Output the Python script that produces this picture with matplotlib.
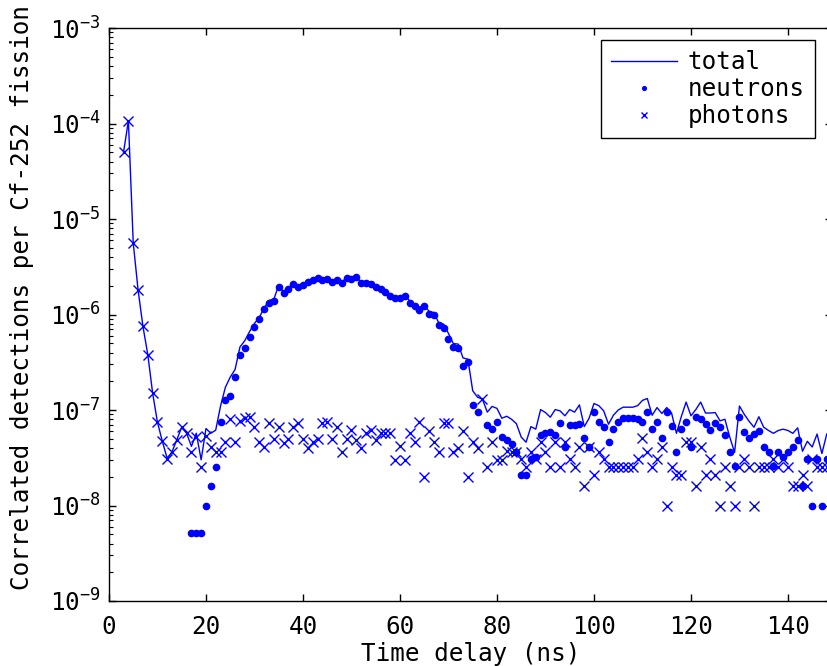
import matplotlib

matplotlib.use("Agg")
import matplotlib.pyplot as plt
import numpy as np
from matplotlib.ticker import FixedLocator, LogFormatterMathtext, LogLocator, MultipleLocator, NullFormatter


# time bins (ns), one value per bin
TIME_NS = list(range(3, 149))

PHOTONS = [
    5.0e-5, 1.07e-4, 5.6e-6, 1.8e-6, 7.5e-7, 3.8e-7, 1.5e-7, 7.4e-8, 4.7e-8, 3.1e-8,
    3.65e-8, 4.9e-8, 6.6e-8, 5.7e-8, 3.65e-8, 5.2e-8, 2.5e-8,
    # 20 - 80 ns
    5.4e-8, 4.1e-8, 3.6e-8, 3.6e-8, 4.6e-8, 8.1e-8, 4.6e-8, 7.6e-8, 8.2e-8, 8.5e-8,
    6.7e-8, 4.6e-8, 4.1e-8, 7.3e-8, 5.0e-8, 6.7e-8, 4.5e-8, 5.0e-8, 6.7e-8, 7.3e-8,
    5.0e-8, 4.0e-8, 4.6e-8, 5.0e-8, 7.3e-8, 7.5e-8, 5.0e-8, 6.7e-8, 3.6e-8, 5.0e-8,
    6.2e-8, 4.8e-8, 4.0e-8, 5.7e-8, 6.2e-8, 4.8e-8, 5.7e-8, 5.7e-8, 5.7e-8, 3.0e-8,
    4.2e-8, 3.0e-8, 5.7e-8, 4.6e-8, 7.4e-8, 2.0e-8, 6.1e-8, 4.6e-8, 3.6e-8, 7.3e-8,
    7.3e-8, 3.6e-8, 4.0e-8, 6.1e-8, 2.0e-8, 4.6e-8, 4.0e-8, 1.3e-7, 2.5e-8, 4.6e-8,
    3.0e-8,
    # 81 - 148 ns
    3.0e-8, 3.7e-8, 3.6e-8, 3.6e-8, 3.1e-8, 2.5e-8, 3.6e-8, 3.1e-8, 4.6e-8, 3.6e-8,
    2.5e-8, 4.6e-8, 2.5e-8, 4.6e-8, 3.1e-8, 2.5e-8, 4.1e-8, 1.6e-8, 4.1e-8, 2.1e-8,
    3.6e-8, 3.1e-8, 2.5e-8, 2.5e-8, 2.5e-8, 2.5e-8, 2.5e-8, 2.5e-8, 3.1e-8, 5.1e-8,
    3.6e-8, 2.5e-8, 3.1e-8, 4.1e-8, 1.0e-8, 2.5e-8, 2.1e-8, 2.1e-8, 4.6e-8, 4.6e-8,
    1.6e-8, 4.1e-8, 2.1e-8, 3.1e-8, 2.1e-8, 1.0e-8, 2.5e-8, 1.6e-8, 1.0e-8, 2.5e-8,
    3.1e-8, 2.5e-8, 1.0e-8, 2.5e-8, 2.5e-8, 2.5e-8, 3.1e-8, 2.5e-8, 3.1e-8, 2.5e-8,
    1.6e-8, 1.6e-8, 2.1e-8, 1.6e-8, 3.1e-8, 2.5e-8, 2.5e-8, 2.5e-8,
]

NEUTRONS = [
    np.nan, np.nan, np.nan, np.nan, np.nan, np.nan, np.nan, np.nan, np.nan, np.nan,
    np.nan, np.nan, np.nan, np.nan, 5.1e-9, 5.1e-9, 5.1e-9,
    # 20 - 80 ns
    1.0e-8, 1.6e-8, 2.55e-8, 7.4e-8, 1.27e-7, 1.4e-7, 2.2e-7, 3.8e-7, 4.5e-7, 5.8e-7,
    7.4e-7, 8.9e-7, 1.13e-6, 1.33e-6, 1.4e-6, 1.96e-6, 1.67e-6, 1.84e-6, 2.08e-6, 1.92e-6,
    2.04e-6, 2.2e-6, 2.3e-6, 2.4e-6, 2.3e-6, 2.35e-6, 2.2e-6, 2.3e-6, 2.13e-6, 2.4e-6,
    2.35e-6, 2.45e-6, 2.13e-6, 2.15e-6, 2.08e-6, 1.92e-6, 1.84e-6, 1.74e-6, 1.55e-6, 1.48e-6,
    1.5e-6, 1.57e-6, 1.33e-6, 1.24e-6, 1.12e-6, 1.22e-6, 1.02e-6, 1.0e-6, 7.8e-7, 7.2e-7,
    5.6e-7, 4.6e-7, 4.5e-7, 2.9e-7, 3.2e-7, 1.13e-7, 9.6e-8, np.nan, 7.0e-8, 6.3e-8,
    7.4e-8,
    # 81 - 148 ns
    5.2e-8, 4.9e-8, 4.4e-8, 3.6e-8, 2.1e-8, 2.1e-8, 3.1e-8, 3.2e-8, 5.5e-8, 5.8e-8,
    5.9e-8, 5.5e-8, 7.3e-8, 4.1e-8, 7.0e-8, 7.0e-8, 7.2e-8, 5.1e-8, 4.1e-8, 9.6e-8,
    7.5e-8, 6.7e-8, 4.6e-8, 6.3e-8, 7.5e-8, 8.2e-8, 8.2e-8, 8.2e-8, 8.0e-8, 7.5e-8,
    9.6e-8, 6.3e-8, 7.5e-8, 5.1e-8, 9.6e-8, 6.8e-8, 3.6e-8, 6.4e-8, 7.5e-8, 4.1e-8,
    8.5e-8, 8.0e-8, 7.2e-8, 6.2e-8, 7.3e-8, 6.7e-8, 5.5e-8, 3.6e-8, 2.6e-8, 8.5e-8,
    5.9e-8, 5.1e-8, 5.6e-8, 6.0e-8, 4.1e-8, 3.6e-8, 2.6e-8, 3.6e-8, 3.2e-8, 3.6e-8,
    4.1e-8, 4.9e-8, 1.6e-8, 3.1e-8, 1.0e-8, 3.1e-8, 1.0e-8, 3.1e-8,
]

Y_DECADES = [1e-9, 1e-8, 1e-7, 1e-6, 1e-5, 1e-4, 1e-3]
X_TICKS = [0, 20, 40, 60, 80, 100, 120, 140]

BLUE = "#0000ff"
FONT_SIZE = 17.5


def set_matlab_style():
    plt.rcParams.update(
        {
            "font.family": "DejaVu Sans Mono",
            "font.size": FONT_SIZE,
            "mathtext.fontset": "custom",
            "mathtext.rm": "DejaVu Sans Mono",
            "mathtext.it": "DejaVu Sans Mono",
            "mathtext.bf": "DejaVu Sans Mono:bold",
            "axes.linewidth": 1.0,
        }
    )


def main():
    set_matlab_style()

    t = np.asarray(TIME_NS, dtype=float)
    photons = np.asarray(PHOTONS)
    neutrons = np.asarray(NEUTRONS)
    total = np.nan_to_num(neutrons) + photons

    fig = plt.figure(figsize=(8.28, 6.66), dpi=100)
    ax = fig.add_axes([109 / 828, 65 / 666, 722.6 / 828, 573 / 666])

    ax.plot(t, total, color=BLUE, linewidth=1.0, label="total")
    ax.plot(t, neutrons, linestyle="none", marker="o", markersize=4.5,
            color=BLUE, markeredgecolor=BLUE, label="neutrons")
    ax.plot(t, photons, linestyle="none", marker="x", markersize=6.5,
            markeredgewidth=1.0, color=BLUE, label="photons")

    ax.set_yscale("log")
    ax.set_xlim(0, 149)
    ax.set_ylim(Y_DECADES[0], Y_DECADES[-1])
    ax.xaxis.set_major_locator(FixedLocator(X_TICKS))
    ax.yaxis.set_major_locator(FixedLocator(Y_DECADES))
    ax.yaxis.set_major_formatter(LogFormatterMathtext())
    ax.yaxis.set_minor_locator(LogLocator(base=10, subs=np.arange(2, 10), numticks=100))
    ax.yaxis.set_minor_formatter(NullFormatter())

    ax.tick_params(which="both", direction="in", top=True, right=True, colors="black")
    ax.tick_params(which="major", length=5, width=1.0)
    ax.tick_params(which="minor", length=3, width=0.8)
    ax.tick_params(axis="x", pad=10)
    ax.tick_params(axis="y", pad=6)

    ax.set_xlabel("Time delay (ns)")
    ax.xaxis.set_label_coords(0.5, -0.072)
    ax.set_ylabel("Correlated detections per Cf-252 fission")
    ax.yaxis.set_label_coords(-0.104, 0.529)

    legend = ax.legend(
        loc="upper right",
        bbox_to_anchor=(0.977, 0.979),
        borderaxespad=0,
        fancybox=False,
        edgecolor="black",
        framealpha=1,
        handlelength=2.7,
        handletextpad=0.45,
        labelspacing=0.12,
        borderpad=0.42,
        markerscale=0.6,
        fontsize=FONT_SIZE,
    )
    legend.get_frame().set_linewidth(1.0)

    fig.savefig("out.png", dpi=100)
    plt.close(fig)


if __name__ == "__main__":
    main()
